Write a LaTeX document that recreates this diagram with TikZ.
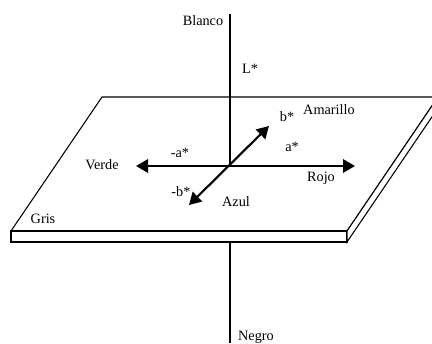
\documentclass[tikz,border=0pt]{standalone}
\usepackage{fontspec}
\setmainfont{Liberation Serif}
\usetikzlibrary{arrows.meta}
\begin{document}
\begin{tikzpicture}[x=0.75pt,y=-0.75pt,
  lbl/.style={inner sep=0pt,font=\fontsize{10.7}{12}\selectfont},
  edge/.style={line width=0.8pt,line join=miter},
  axisarrow/.style={line width=1.6pt,{Triangle[length=9pt,width=10pt]}-{Triangle[length=9pt,width=10pt]}}]
\useasboundingbox (0,0) rectangle (432,343);
% plate
\coordinate (p1) at (11,231);
\coordinate (p2) at (347,231);
\coordinate (p3) at (438,97);
\coordinate (p4) at (102,97);
\coordinate (p5) at (347,242);
\coordinate (p6) at (11,242);
\coordinate (p7) at (438,108);
\filldraw[edge,fill=white] (p1) -- (p2) -- (p3) -- (p4) -- cycle;
\filldraw[edge,fill=white] (p1) -- (p2) -- (p5) -- (p6) -- cycle;
\filldraw[edge,fill=white] (p2) -- (p3) -- (p7) -- (p5) -- cycle;
% L axis
\coordinate (top) at (230,14);
\coordinate (O) at (230,166);
\coordinate (below) at (230,242);
\coordinate (bot) at (230,343);
\draw[edge] (top) -- (O);
\draw[edge] (below) -- (bot);
% a and b axes
\coordinate (aneg) at (136,166);
\coordinate (apos) at (355,166);
\coordinate (bneg) at (189,205);
\coordinate (bpos) at (269,126);
\draw[axisarrow] (aneg) -- (apos);
\draw[axisarrow] (bneg) -- (bpos);
% labels
\node[lbl] (blanco) at (203,21) {Blanco};
\node[lbl] (L) at (250,69) {L*};
\node[lbl] (b) at (287,117) {b*};
\node[lbl] (amarillo) at (329,110) {Amarillo};
\node[lbl] (ma) at (180,153) {-a*};
\node[lbl] (a) at (292,147) {a*};
\node[lbl] (verde) at (102,165) {Verde};
\node[lbl] (rojo) at (321,178) {Rojo};
\node[lbl] (mb) at (181,192) {-b*};
\node[lbl] (azul) at (236,202) {Azul};
\node[lbl] (gris) at (43,219) {Gris};
\node[lbl] (negro) at (256,337) {Negro};
\end{tikzpicture}
\end{document}
